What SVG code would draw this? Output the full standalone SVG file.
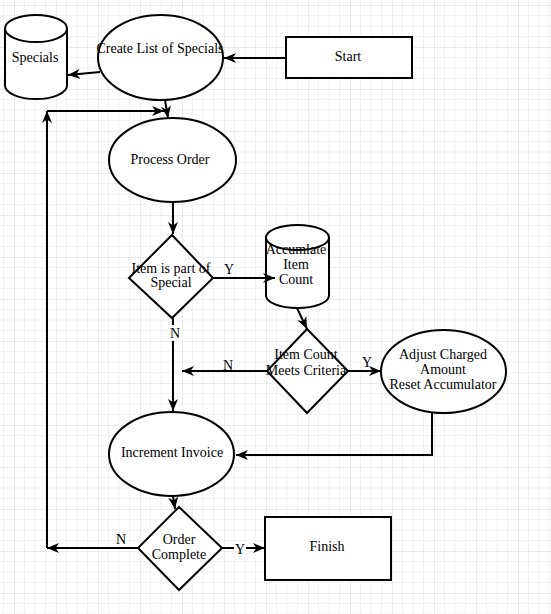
<svg xmlns="http://www.w3.org/2000/svg" width="551" height="614" viewBox="0 0 551 614">
<style>
.s{fill:#fff;stroke:#000;stroke-width:2}
.c{fill:none;stroke:#000;stroke-width:2}
.e{fill:none;stroke:#000;stroke-width:2;marker-end:url(#ah)}
text{font-family:"Liberation Serif","Times New Roman",serif;font-size:14px;fill:#000;text-anchor:middle}
</style>
<defs>
<pattern id="grid" patternUnits="userSpaceOnUse" x="14" y="5" width="42" height="42">
<rect width="42" height="42" fill="#fff"/>
<path d="M10.5,0V42M21,0V42M31.5,0V42M0,10.5H42M0,21H42M0,31.5H42" stroke="#f2f2f2" stroke-width="1"/>
<path d="M0,0V42M0,0H42" stroke="#dadada" stroke-width="1"/>
</pattern>
<marker id="ah" viewBox="0 0 12 10" refX="12" refY="5" markerWidth="12" markerHeight="10" markerUnits="userSpaceOnUse" orient="auto">
<path d="M0,0 L12,5 L0,10 L3.5,5 z" fill="#000"/>
</marker>
</defs>
<rect width="551" height="614" fill="url(#grid)"/>

<g id="specials">
<path class="s" d="M5,28.5 V85.5 A31,13.5 0 0 0 67,85.5 V28.5 A31,13.5 0 0 0 5,28.5 Z"/>
<path class="c" d="M5,28.5 A31,13.5 0 0 0 67,28.5"/>
<text x="35" y="62">Specials</text>
</g>

<g id="create-list">
<ellipse class="s" cx="160.5" cy="57.5" rx="62.5" ry="42.5"/>
<text x="160" y="53">Create List of Specials</text>
</g>

<g id="start">
<rect class="s" x="286" y="37" width="126" height="41"/>
<text x="348" y="61">Start</text>
</g>

<g id="process-order">
<ellipse class="s" cx="172.5" cy="160" rx="63.5" ry="42"/>
<text x="170" y="164">Process Order</text>
</g>

<g id="item-special">
<polygon class="s" points="172,235 213,278 172,318 129,278"/>
<text x="171" y="273">Item is part of</text>
<text x="171" y="287">Special</text>
</g>

<g id="accumulate">
<path class="s" d="M266,237.5 V295.5 A31.5,12.5 0 0 0 329,295.5 V237.5 A31.5,12.5 0 0 0 266,237.5 Z"/>
<path class="c" d="M266,237.5 A31.5,12.5 0 0 0 329,237.5"/>
<text x="296" y="254">Accumlate</text>
<text x="296" y="269">Item</text>
<text x="296" y="284">Count</text>
</g>

<g id="item-count">
<polygon class="s" points="307,329 348,371 307,413 267,371"/>
<text x="306" y="359">Item Count</text>
<text x="306" y="375">Meets Criteria</text>
</g>

<g id="adjust">
<ellipse class="s" cx="443.5" cy="371.5" rx="62.5" ry="41.5"/>
<text x="443" y="359">Adjust Charged</text>
<text x="443" y="374">Amount</text>
<text x="443" y="389">Reset Accumulator</text>
</g>

<g id="increment">
<ellipse class="s" cx="171.5" cy="454" rx="62.5" ry="42"/>
<text x="172" y="457">Increment Invoice</text>
</g>

<g id="order-complete">
<polygon class="s" points="179,507 222,548 179,590 138,548"/>
<text x="179" y="544">Order</text>
<text x="179" y="559">Complete</text>
</g>

<g id="finish">
<rect class="s" x="265" y="517" width="126" height="63"/>
<text x="327" y="551">Finish</text>
</g>

<g id="connectors">
<line class="e" x1="286" y1="58" x2="224" y2="58"/>
<line class="e" x1="100" y1="72" x2="68" y2="75"/>
<line class="e" x1="165" y1="100" x2="168" y2="118"/>
<line class="e" x1="47" y1="548" x2="47" y2="111"/>
<line class="e" x1="47" y1="111" x2="164" y2="111"/>
<line class="e" x1="173" y1="203" x2="173" y2="234"/>
<line class="e" x1="213" y1="278" x2="275" y2="278"/>
<line class="e" x1="173" y1="318" x2="173" y2="411"/>
<line class="e" x1="297" y1="308" x2="307" y2="329"/>
<line class="e" x1="267" y1="371" x2="182" y2="371"/>
<line class="e" x1="348" y1="371" x2="381" y2="371"/>
<polyline class="e" points="432,413 432,455 236,455"/>
<line class="e" x1="173" y1="496" x2="175" y2="509"/>
<line class="e" x1="138" y1="548" x2="47" y2="548"/>
<line class="e" x1="222" y1="548" x2="265" y2="548"/>
<text x="229" y="274">Y</text>
<rect x="168" y="325" width="14" height="16" fill="#fff"/>
<text x="175" y="338">N</text>
<text x="228" y="370">N</text>
<text x="367" y="367">Y</text>
<text x="121" y="544">N</text>
<rect x="234" y="542" width="12" height="12" fill="#fff"/>
<text x="240" y="554">Y</text>
</g>
</svg>
